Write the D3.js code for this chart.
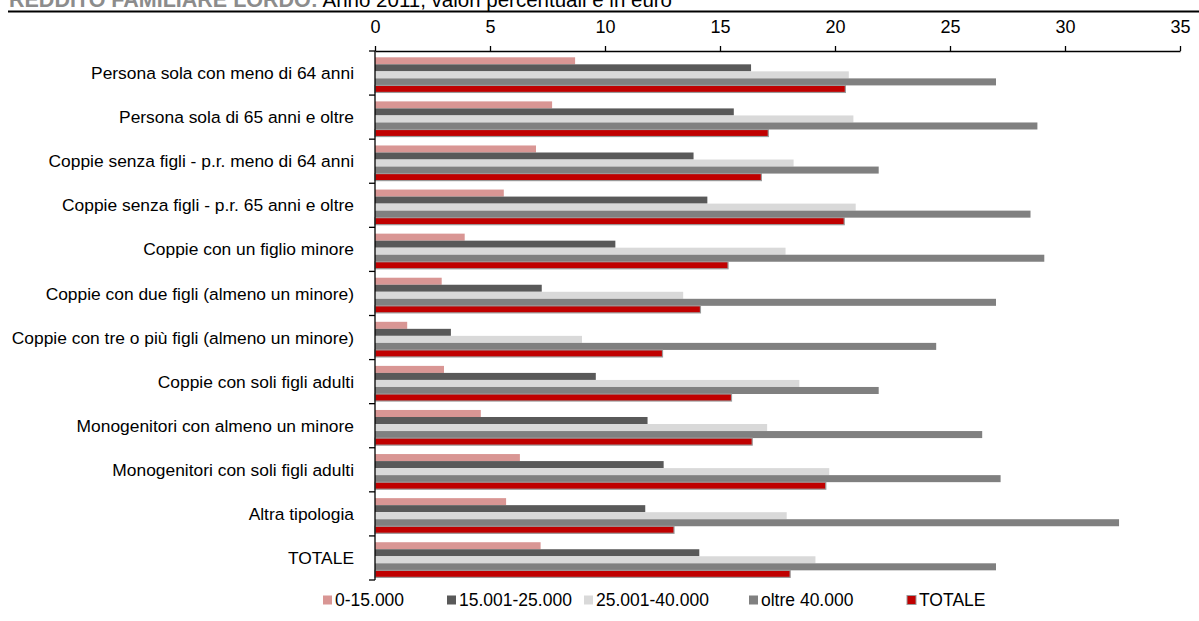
<!DOCTYPE html>
<html>
<head>
<meta charset="utf-8">
<script src="https://cdn.jsdelivr.net/npm/d3@7"></script>
<style>
  html, body { margin: 0; padding: 0; background: #fff; }
  svg { display: block; font-family: "Liberation Sans", Arial, sans-serif; }
</style>
</head>
<body>
<svg id="chart" width="1199" height="621"></svg>
<script>
// Household types (rows, top to bottom)
const categories = [
  "Persona sola con meno di 64 anni",
  "Persona sola di 65 anni e oltre",
  "Coppie senza figli - p.r. meno di 64 anni",
  "Coppie senza figli - p.r. 65 anni e oltre",
  "Coppie con un figlio minore",
  "Coppie con due figli (almeno un minore)",
  "Coppie con tre o più figli (almeno un minore)",
  "Coppie con soli figli adulti",
  "Monogenitori con almeno un minore",
  "Monogenitori con soli figli adulti",
  "Altra tipologia",
  "TOTALE"
];

// Income bands
const seriesNames = ["0-15.000", "15.001-25.000", "25.001-40.000", "oltre 40.000", "TOTALE"];

const v0_15000      = [8.7, 7.7, 7.0, 5.6, 3.9, 2.9, 1.4, 3.0, 4.6, 6.3, 5.7, 7.2];
const v15001_25000  = [16.35, 15.6, 13.85, 14.45, 10.45, 7.25, 3.3, 9.6, 11.85, 12.55, 11.75, 14.1];
const v25001_40000  = [20.6, 20.8, 18.2, 20.9, 17.85, 13.4, 9.0, 18.45, 17.05, 19.75, 17.9, 19.15];
const vOltre40000   = [27.0, 28.8, 21.9, 28.5, 29.1, 27.0, 24.4, 21.9, 26.4, 27.2, 32.35, 27.0];
const vTotale       = [20.45, 17.1, 16.8, 20.4, 15.35, 14.15, 12.5, 15.5, 16.4, 19.6, 13.0, 18.05];

const seriesValues = [v0_15000, v15001_25000, v25001_40000, vOltre40000, vTotale];
const colors = ["#d99694", "#595959", "#d9d9d9", "#808080", "#c00000"];

const xTicks = [0, 5, 10, 15, 20, 25, 30, 35];

const svg = d3.select("#chart");

// Title, partly clipped by the top edge
const title = svg.append("text").attr("x", 9).attr("y", 7);
title.append("tspan").attr("fill", "#8c8c8c").attr("font-weight", "bold")
  .style("font-size", "21.5px").text("REDDITO FAMILIARE LORDO:");
title.append("tspan").attr("fill", "#000")
  .style("font-size", "20.5px").text(" Anno 2011, valori percentuali e in euro");
svg.append("line").attr("x1", 8).attr("x2", 1199).attr("y1", 11.5).attr("y2", 11.5)
  .attr("stroke", "#000").attr("stroke-width", 1.8);

const plot = { left: 375, right: 1180, top: 51, bottom: 580 };

const x = d3.scaleLinear().domain([0, 35]).range([plot.left, plot.right]);
const y = d3.scaleBand().domain(categories).range([plot.top, plot.bottom]).paddingInner(0).paddingOuter(0);
const inner = d3.scaleBand().domain(d3.range(seriesNames.length))
  .range([y.bandwidth() * 0.143, y.bandwidth() * 0.94]).padding(0);

// Bars
seriesValues.forEach((vals, si) => {
  svg.append("g").selectAll("rect")
    .data(vals)
    .join("rect")
    .attr("x", x(0))
    .attr("y", (d, i) => y(categories[i]) + inner(si))
    .attr("width", d => x(d) - x(0))
    .attr("height", inner.bandwidth())
    .attr("fill", colors[si])
    .attr("stroke", si === 4 ? "#9a9a9a" : "none")
    .attr("stroke-width", si === 4 ? 1.2 : 0);
});

// Top value axis
const xAxis = svg.append("g")
  .attr("transform", `translate(0,${plot.top})`)
  .call(d3.axisTop(x).tickValues(xTicks).tickSize(5).tickPadding(13).tickSizeOuter(0));
xAxis.select(".domain").attr("stroke", "#000").attr("stroke-width", 1.3);
xAxis.selectAll(".tick line").attr("stroke", "#000").attr("stroke-width", 1.3);
xAxis.selectAll("text").style("font-size", "18px").attr("fill", "#000");

// Category axis: tick marks on band boundaries
const boundaries = d3.range(categories.length + 1).map(i => plot.top + i * y.step());
svg.append("line").attr("x1", plot.left).attr("x2", plot.left)
  .attr("y1", plot.top).attr("y2", plot.bottom).attr("stroke", "#000").attr("stroke-width", 1.3);
svg.append("g").selectAll("line").data(boundaries).join("line")
  .attr("x1", plot.left - 6).attr("x2", plot.left)
  .attr("y1", d => d).attr("y2", d => d)
  .attr("stroke", "#000").attr("stroke-width", 1.3);

svg.append("g").selectAll("text").data(categories).join("text")
  .attr("x", 354)
  .attr("y", d => y(d) + y.bandwidth() / 2)
  .attr("dy", "0.35em")
  .attr("text-anchor", "end")
  .style("font-size", "17.4px")
  .attr("fill", "#000")
  .text(d => d);

// Legend
const legendX = [323, 447, 584, 749, 907];
const legend = svg.append("g").selectAll("g").data(seriesNames).join("g")
  .attr("transform", (d, i) => `translate(${legendX[i]},600)`);
legend.append("rect").attr("x", 0).attr("y", -4.5).attr("width", 9).attr("height", 9)
  .attr("fill", (d, i) => colors[i])
  .attr("stroke", (d, i) => i === 4 ? "#9a9a9a" : "none").attr("stroke-width", 1);
legend.append("text").attr("x", 12).attr("dy", "0.35em")
  .style("font-size", "17.5px").attr("fill", "#000").text(d => d);
</script>
</body>
</html>
